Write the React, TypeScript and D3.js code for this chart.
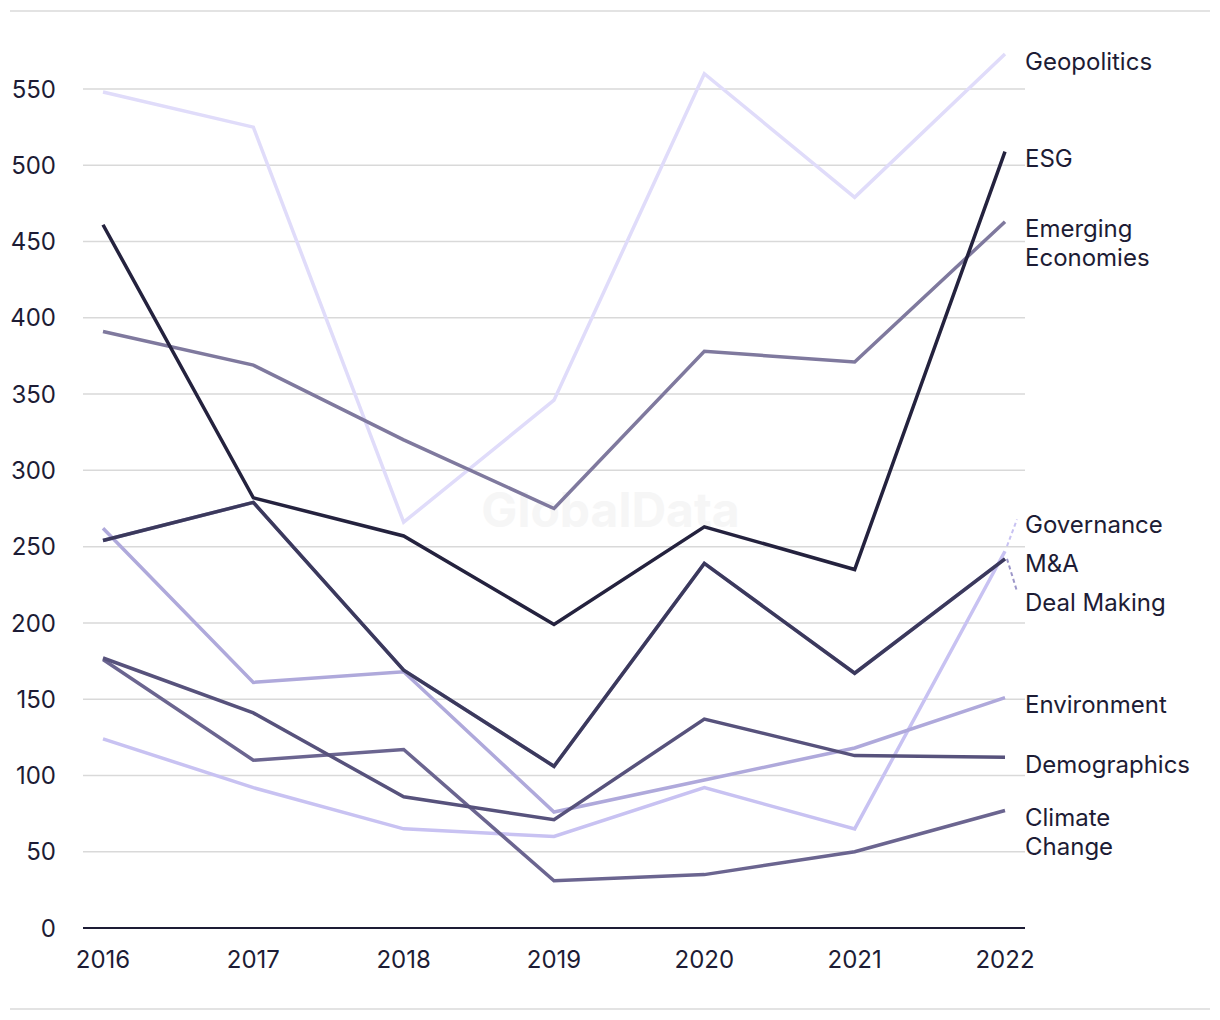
import React from "react";
import * as d3 from "d3";

const years = ["2016", "2017", "2018", "2019", "2020", "2021", "2022"];
const yTicks = [0, 50, 100, 150, 200, 250, 300, 350, 400, 450, 500, 550];

const geopolitics = [548, 525, 266, 346, 560, 479, 573];
const esg = [461, 282, 257, 199, 263, 235, 509];
const emergingEconomies = [391, 369, 320, 275, 378, 371, 463];
const governance = [124, 92, 65, 60, 92, 65, 247];
const mAndA = [254, 279, 169, 106, 239, 167, 242];
const dealMaking = [254, 279, 169, 106, 239, 167, 242];
const environment = [262, 161, 168, 76, 97, 118, 151];
const demographics = [177, 141, 86, 71, 137, 113, 112];
const climateChange = [176, 110, 117, 31, 35, 50, 77];

// legend order (top to bottom)
const seriesNames = [
  "Geopolitics",
  "ESG",
  "Emerging Economies",
  "Governance",
  "M&A",
  "Deal Making",
  "Environment",
  "Demographics",
  "Climate Change",
];
const seriesLabelLines = [
  ["Geopolitics"],
  ["ESG"],
  ["Emerging", "Economies"],
  ["Governance"],
  ["M&A"],
  ["Deal Making"],
  ["Environment"],
  ["Demographics"],
  ["Climate", "Change"],
];
const seriesValues = [
  geopolitics,
  esg,
  emergingEconomies,
  governance,
  mAndA,
  dealMaking,
  environment,
  demographics,
  climateChange,
];
const seriesColors = [
  "#e0dcfa",
  "#24223e",
  "#7f799e",
  "#c8c2f2",
  "#3b395c",
  "#9d97c9",
  "#afa9db",
  "#57527c",
  "#6b6590",
];
// drawing order (indices into series arrays)
const drawOrder = [0, 3, 6, 2, 8, 7, 5, 4, 1];

const FONT = "Inter, 'Noto Sans', sans-serif";
const TEXT = "#1d1c35";

export default function App() {
  const W = 1220;
  const H = 1020;
  const left = 83;
  const right = 1025;
  const x = d3.scalePoint<string>().domain(years).range([103, 1005]);
  const y = d3.scaleLinear().domain([0, 550]).range([928, 89]);

  const line = d3
    .line<number>()
    .x((_, i) => x(years[i]) as number)
    .y((v) => y(v));

  // label placement with simple dodge
  const gap = 39;
  const targets = seriesValues.map((vals) => y(vals[vals.length - 1]) + 7);
  type Cluster = { idx: number[]; pos: number };
  let clusters: Cluster[] = targets.map((t, i) => ({ idx: [i], pos: t }));
  const span = (c: Cluster) => {
    let h = 0;
    c.idx.forEach((i, k) => {
      if (k < c.idx.length - 1) h += gap + (seriesLabelLines[i].length - 1) * 29;
    });
    return h;
  };
  let changed = true;
  while (changed) {
    changed = false;
    for (let k = 0; k < clusters.length - 1; k++) {
      const a = clusters[k];
      const b = clusters[k + 1];
      const aLast = a.idx[a.idx.length - 1];
      const aBottom = a.pos + span(a) / 2;
      const bTop = b.pos - span(b) / 2;
      const need = gap + (seriesLabelLines[aLast].length - 1) * 29;
      if (bTop - aBottom < need - 0.5) {
        const idx = a.idx.concat(b.idx);
        const pos = d3.mean(idx.map((i) => targets[i])) as number;
        clusters.splice(k, 2, { idx, pos });
        changed = true;
        break;
      }
    }
  }
  const labelY: number[] = new Array(seriesNames.length).fill(0);
  clusters.forEach((c) => {
    let cur = c.pos - span(c) / 2;
    c.idx.forEach((i) => {
      labelY[i] = cur;
      cur += gap + (seriesLabelLines[i].length - 1) * 29;
    });
  });

  const xEnd = x(years[years.length - 1]) as number;

  return (
    <svg
      width={W}
      height={H}
      style={{ position: "absolute", left: 0, top: 0 }}
      fontFamily={FONT}
    >
      <rect x={0} y={0} width={W} height={H} fill="#ffffff" />
      <line x1={10} x2={1210} y1={11} y2={11} stroke="#dadada" strokeWidth={1.5} />
      <line x1={10} x2={1210} y1={1009} y2={1009} stroke="#dadada" strokeWidth={1.5} />

      {/* gridlines */}
      {yTicks.map((t) =>
        t === 0 ? null : (
          <line
            key={"g" + t}
            x1={left}
            x2={right}
            y1={y(t)}
            y2={y(t)}
            stroke="#d9d9d9"
            strokeWidth={1.5}
          />
        )
      )}
      {/* watermark */}
      <text
        x={610.5}
        y={527}
        textAnchor="middle"
        fontSize={48}
        fontWeight={700}
        fill="#f6f6f6"
      >
        GlobalData
      </text>

      {/* y tick labels */}
      {yTicks.map((t) => (
        <text
          key={"t" + t}
          x={56}
          y={y(t)}
          dy="0.36em"
          textAnchor="end"
          fontSize={24}
          fill={TEXT}
        >
          {t}
        </text>
      ))}
      {/* x tick labels */}
      {years.map((yr) => (
        <text
          key={yr}
          x={x(yr) as number}
          y={968}
          textAnchor="middle"
          fontSize={24}
          fill={TEXT}
        >
          {yr}
        </text>
      ))}

      {/* lines */}
      {drawOrder.map((i) => (
        <path
          key={"l" + i}
          d={line(seriesValues[i]) || ""}
          fill="none"
          stroke={seriesColors[i]}
          strokeWidth={3.5}
          strokeLinejoin="miter"
        />
      ))}

      {/* baseline */}
      <line x1={left} x2={right} y1={y(0)} y2={y(0)} stroke="#1d1c35" strokeWidth={2} />

      {/* connectors */}
      {seriesNames.map((n, i) => {
        const ye = y(seriesValues[i][seriesValues[i].length - 1]);
        const ly = labelY[i];
        const shift = ly - targets[i];
        if (Math.abs(shift) < 10) return null;
        const endY = shift < 0 ? ly - 5 : ly - 11;
        return (
          <line
            key={"c" + i}
            x1={xEnd + 2}
            y1={ye - (shift < 0 ? 5 : 0)}
            x2={1017}
            y2={endY}
            stroke={seriesColors[i]}
            strokeWidth={2}
            strokeDasharray="4 3"
          />
        );
      })}

      {/* labels */}
      {seriesNames.map((n, i) => (
        <text key={"n" + i} x={1025} y={labelY[i]} fontSize={24} fill={TEXT}>
          {seriesLabelLines[i].map((ln, k) => (
            <tspan key={k} x={1025} dy={k === 0 ? "0.36em" : 29}>
              {ln}
            </tspan>
          ))}
        </text>
      ))}
    </svg>
  );
}
